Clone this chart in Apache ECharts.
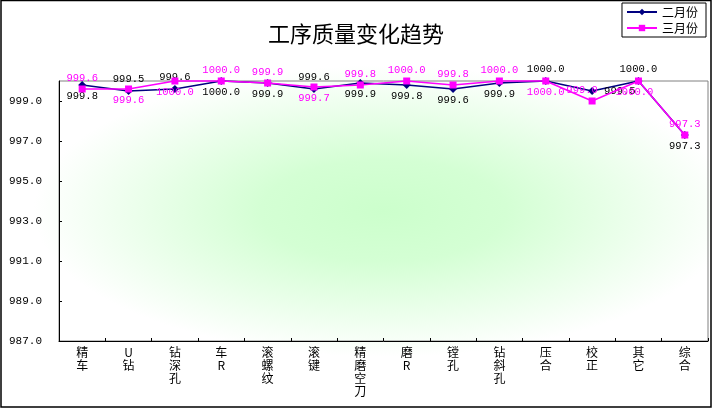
<!DOCTYPE html>
<html>
<head>
<meta charset="utf-8">
<script src="https://cdn.jsdelivr.net/npm/echarts@6/dist/echarts.min.js"></script>
<style>
html,body{margin:0;padding:0;background:#fff;}
#main{width:712px;height:408px;}
</style>
</head>
<body>
<div id="main"></div>
<script>
const categories = ['精车','U钻','钻深孔','车R','滚螺纹','滚键','精磨空刀','磨R','镗孔','钻斜孔','压合','校正','其它','综合'];
const febValues = [999.8, 999.5, 999.6, 1000.0, 999.9, 999.6, 999.9, 999.8, 999.6, 999.9, 1000.0, 999.5, 1000.0, 997.3];
const marValues = [999.6, 999.6, 1000.0, 1000.0, 999.9, 999.7, 999.8, 1000.0, 999.8, 1000.0, 1000.0, 999.0, 1000.0, 997.3];
const febLabelPos = ['bottom','top','top','bottom','bottom','top','bottom','bottom','bottom','bottom','top','right','top','bottom'];
const marLabelPos = ['top','bottom','bottom','top','top','bottom','top','top','top','top','bottom','top','bottom','top'];
const yMin = 987, yMax = 1000, yStep = 2;

const numFont = 'Liberation Mono';
function items(vals, pos, color) {
  return vals.map((v, i) => {
    const lab = {show: true, position: pos[i], distance: pos[i] === 'right' ? 8 : 2, color: color};
    if (pos[i] === 'top' && vals === marValues && i === 11) { lab.offset = [-10, 0]; }
    if (pos[i] === 'bottom' && vals === marValues && i === 12) { lab.offset = [-4, 0]; }
    return {value: v, label: lab};
  });
}

const chart = echarts.init(document.getElementById('main'));
chart.setOption({
  backgroundColor: '#ffffff',
  animation: false,
  title: {
    text: '工序质量变化趋势',
    left: 'center',
    top: 18,
    textStyle: {fontFamily: 'Noto Sans CJK SC', fontSize: 22, fontWeight: 'normal', color: '#000'}
  },
  legend: {
    orient: 'vertical',
    right: 6,
    top: 3,
    borderColor: '#000',
    borderWidth: 1,
    backgroundColor: '#fff',
    padding: [3, 8, 3, 4],
    itemWidth: 30,
    itemHeight: 8,
    itemGap: 4,
    textStyle: {fontFamily: 'Noto Sans CJK SC', fontSize: 12, color: '#000'},
    data: ['二月份', '三月份']
  },
  graphic: [
    {
      type: 'rect', z: -1, silent: true,
      x: 383.5, y: 211, scaleX: 700 / 260, scaleY: 1.12,
      shape: {x: -130, y: -130, width: 260, height: 260},
      style: {
        fill: {type: 'radial', x: 0.5, y: 0.5, r: 0.5,
          colorStops: [{offset: 0, color: '#ccffcc'}, {offset: 0.35, color: '#d4ffd4'}, {offset: 1, color: '#ffffff'}]}
      }
    },
    {
      type: 'rect', z: 100, silent: true,
      shape: {x: 1, y: 0.5, width: 710, height: 406.5},
      style: {fill: 'none', stroke: '#000', lineWidth: 1.5}
    }
  ],
  grid: {
    left: 59, right: 4, top: 81, bottom: 67,
    show: true, backgroundColor: 'transparent', borderColor: '#808080', borderWidth: 1
  },
  xAxis: {
    type: 'category',
    data: categories,
    boundaryGap: true,
    axisLine: {lineStyle: {color: '#000', width: 1}},
    axisTick: {show: true, inside: true, length: 3, lineStyle: {color: '#000'}},
    axisLabel: {
      interval: 0, margin: 5, fontSize: 12, lineHeight: 13,
      fontFamily: 'Noto Sans CJK SC', color: '#000',
      formatter: v => v.split('').join('\n')
    },
    splitLine: {show: false}
  },
  yAxis: {
    type: 'value',
    min: yMin, max: yMax, interval: yStep,
    axisLine: {show: true, lineStyle: {color: '#000', width: 1}},
    axisTick: {show: true, inside: true, length: 3, lineStyle: {color: '#000'}},
    axisLabel: {
      margin: 17, fontSize: 11, fontFamily: numFont, color: '#000',
      showMaxLabel: false,
      formatter: v => v.toFixed(1)
    },
    splitLine: {show: false}
  },
  series: [
    {
      name: '二月份', type: 'line', clip: false,
      data: items(febValues, febLabelPos, '#000'),
      symbol: 'diamond', symbolSize: 8,
      lineStyle: {color: '#000080', width: 1.5},
      itemStyle: {color: '#000080'},
      label: {fontFamily: numFont, fontSize: 10.5, formatter: p => p.value.toFixed(1)},
      z: 3
    },
    {
      name: '三月份', type: 'line', clip: false,
      data: items(marValues, marLabelPos, '#ff00ff'),
      symbol: 'rect', symbolSize: 7,
      lineStyle: {color: '#ff00ff', width: 1.5},
      itemStyle: {color: '#ff00ff'},
      label: {fontFamily: numFont, fontSize: 10.5, formatter: p => p.value.toFixed(1)},
      z: 4
    }
  ]
});
</script>
</body>
</html>
